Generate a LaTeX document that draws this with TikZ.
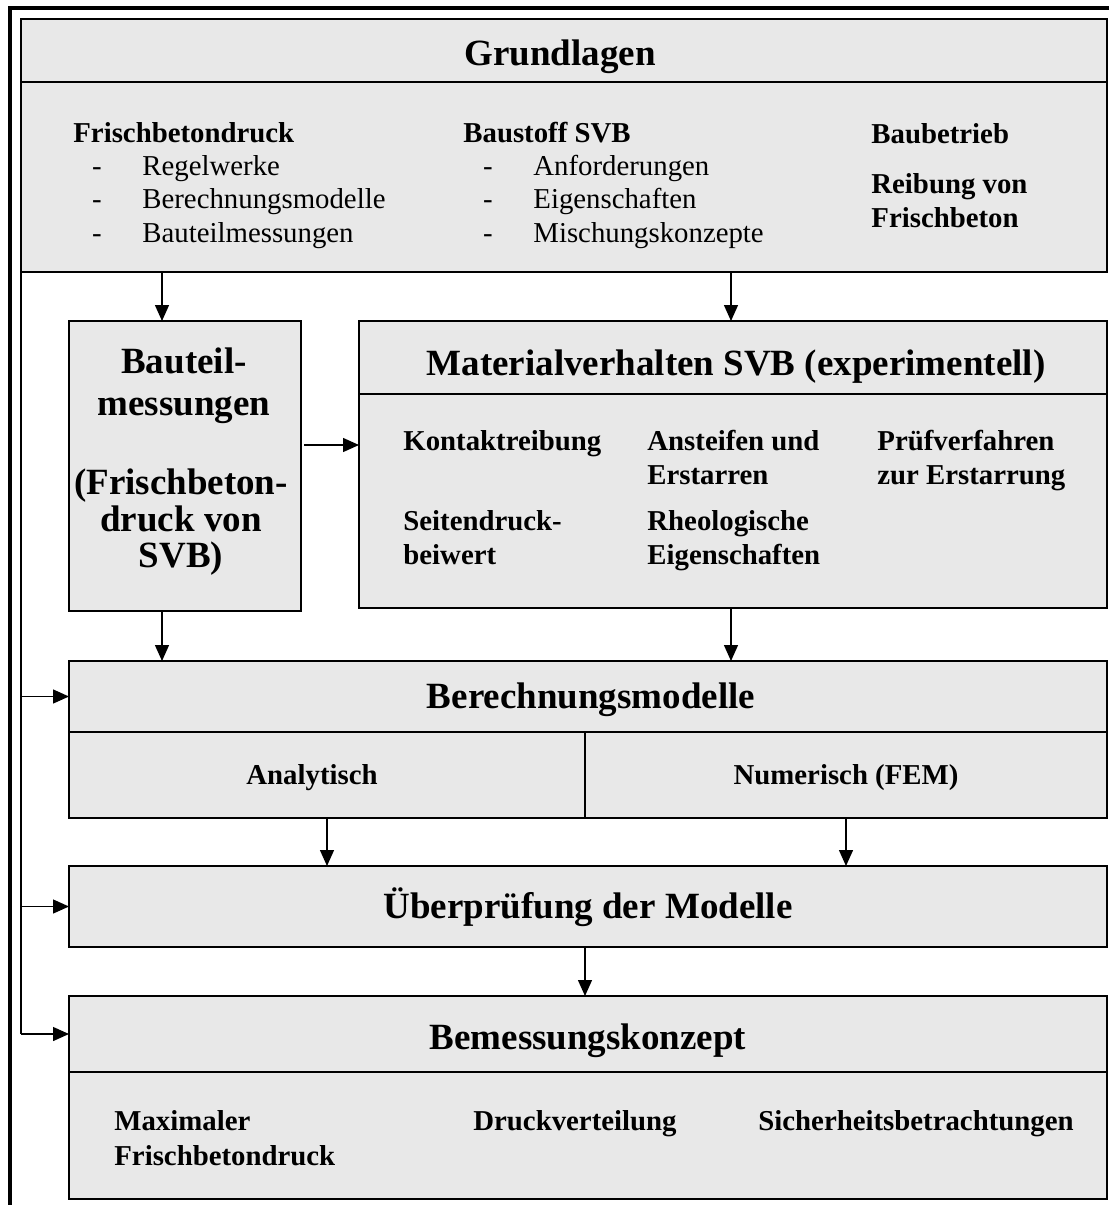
\documentclass[tikz,border=0pt]{standalone}
\usepackage{fontspec}
\setmainfont{Liberation Serif}
\usetikzlibrary{arrows.meta}

\definecolor{panelgray}{RGB}{232,232,232}

% a grey panel given by its corners (x1,y1) and (x2,y2), in pixel units
\newcommand\mkpanel[5]{%
  \node[panel,minimum width={(#4-#2)*0.5pt},minimum height={(#5-#3)*0.5pt}]
    (#1) at ({(#2+#4)/2},{(#3+#5)/2}) {};}

\begin{document}
\begin{tikzpicture}[x=0.5pt,y=-0.5pt,
  panel/.style={draw,line width=0.7pt,fill=panelgray,rectangle,inner sep=0pt,outer sep=0pt},
  sub/.style={font=\fontsize{14.4}{17}\selectfont\bfseries,inner sep=0pt,anchor=base west},
  item/.style={font=\fontsize{14.4}{17}\selectfont,inner sep=0pt,anchor=base west},
  dashmark/.style={font=\fontsize{14.4}{17}\selectfont,inner sep=0pt,anchor=base},
  bigline/.style={font=\fontsize{18.5}{22}\selectfont\bfseries,inner sep=0pt,anchor=base},
  arr/.style={line width=0.7pt,-{Triangle[length=8pt,width=7pt]}},
  link/.style={line width=0.7pt},
  frame/.style={line width=2pt,line join=miter}]
\useasboundingbox (0,0) rectangle (1109,1205);

% outer frame (top and left edges)
\draw[frame] (1109,8) -- (9.5,8) -- (9.5,1205);

% ---- Grundlagen
\mkpanel{gh}{21}{19}{1107}{82}
\mkpanel{gb}{21}{82}{1107}{272}
\node[bigline] (ght) at (560,65) {Grundlagen};

\node[sub] (fb) at (73,142) {Frischbetondruck};
\node[dashmark] (fd1) at (97,175) {-};
\node[dashmark] (fd2) at (97,208) {-};
\node[dashmark] (fd3) at (97,242) {-};
\node[item] (fi1) at (142,175) {Regelwerke};
\node[item] (fi2) at (142,208) {Berechnungsmodelle};
\node[item] (fi3) at (142,242) {Bauteilmessungen};

\node[sub] (bs) at (463,142) {Baustoff SVB};
\node[dashmark] (bd1) at (488,175) {-};
\node[dashmark] (bd2) at (488,208) {-};
\node[dashmark] (bd3) at (488,242) {-};
\node[item] (bi1) at (533,175) {Anforderungen};
\node[item] (bi2) at (533,208) {Eigenschaften};
\node[item] (bi3) at (533,242) {Mischungskonzepte};

\node[sub] (bb) at (871,143) {Baubetrieb};
\node[sub] (rf1) at (871,193) {Reibung von};
\node[sub] (rf2) at (871,227) {Frischbeton};

% ---- Bauteilmessungen
\mkpanel{bt}{69}{321}{301}{611}
\node[bigline] (bt1) at (184,373) {Bauteil-};
\node[bigline] (bt2) at (184,415) {messungen};
\node[bigline] (bt3) at (181,494) {(Frischbeton-};
\node[bigline] (bt4) at (181,531) {druck von};
\node[bigline] (bt5) at (181,567) {SVB)};

% ---- Materialverhalten
\mkpanel{mh}{359}{321}{1107}{394}
\mkpanel{mb}{359}{394}{1107}{608}
\node[bigline] (mht) at (736,375) {Materialverhalten SVB (experimentell)};
\node[sub] (m1) at (403,450) {Kontaktreibung};
\node[sub] (m2a) at (647,450) {Ansteifen und};
\node[sub] (m2b) at (647,484) {Erstarren};
\node[sub] (m3a) at (877,450) {Prüfverfahren};
\node[sub] (m3b) at (877,484) {zur Erstarrung};
\node[sub] (m4a) at (403,530) {Seitendruck-};
\node[sub] (m4b) at (403,564) {beiwert};
\node[sub] (m5a) at (647,530) {Rheologische};
\node[sub] (m5b) at (647,564) {Eigenschaften};

% ---- Berechnungsmodelle
\mkpanel{bh}{69}{661}{1107}{732}
\mkpanel{ba}{69}{732}{585}{818}
\mkpanel{bn}{585}{732}{1107}{818}
\node[bigline] (bht) at (591,708) {Berechnungsmodelle};
\node[sub,anchor=base] (ban) at (312,784) {Analytisch};
\node[sub,anchor=base] (bnu) at (846,784) {Numerisch (FEM)};

% ---- Überprüfung
\mkpanel{ue}{69}{866}{1107}{947}
\node[bigline] (uet) at (588,918) {Überprüfung der Modelle};

% ---- Bemessungskonzept
\mkpanel{kh}{69}{996}{1107}{1072}
\mkpanel{kb}{69}{1072}{1107}{1199}
\node[bigline] (kht) at (588,1049) {Bemessungskonzept};
\node[sub] (k1a) at (114,1130) {Maximaler};
\node[sub] (k1b) at (114,1165) {Frischbetondruck};
\node[sub] (k2) at (473,1130) {Druckverteilung};
\node[sub] (k3) at (758,1130) {Sicherheitsbetrachtungen};

% ---- connectors
\coordinate (xa) at (162,0);
\coordinate (xb) at (731,0);
\coordinate (xc) at (585,0);
\coordinate (ya) at (0,445);

\draw[arr] (gb.south -| xa) -- (bt.north -| xa);
\draw[arr] (gb.south -| xb) -- (mh.north -| xb);
\draw[arr,shorten <=1.5pt] (bt.east |- ya) -- (mb.west |- ya);
\draw[arr] (bt.south -| xa) -- (bh.north -| xa);
\draw[arr] (mb.south -| xb) -- (bh.north -| xb);
\draw[arr] (ba.south) -- (ue.north -| ba.south);
\draw[arr] (bn.south) -- (ue.north -| bn.south);
\draw[arr] (ue.south -| xc) -- (kh.north -| xc);

% feedback line from Grundlagen down the left side
\draw[link] (gb.south west) -- (gb.south west |- kh.west);
\draw[arr] (gb.south west |- bh.west) -- (bh.west);
\draw[arr] (gb.south west |- ue.west) -- (ue.west);
\draw[arr] (gb.south west |- kh.west) -- (kh.west);
\end{tikzpicture}
\end{document}
